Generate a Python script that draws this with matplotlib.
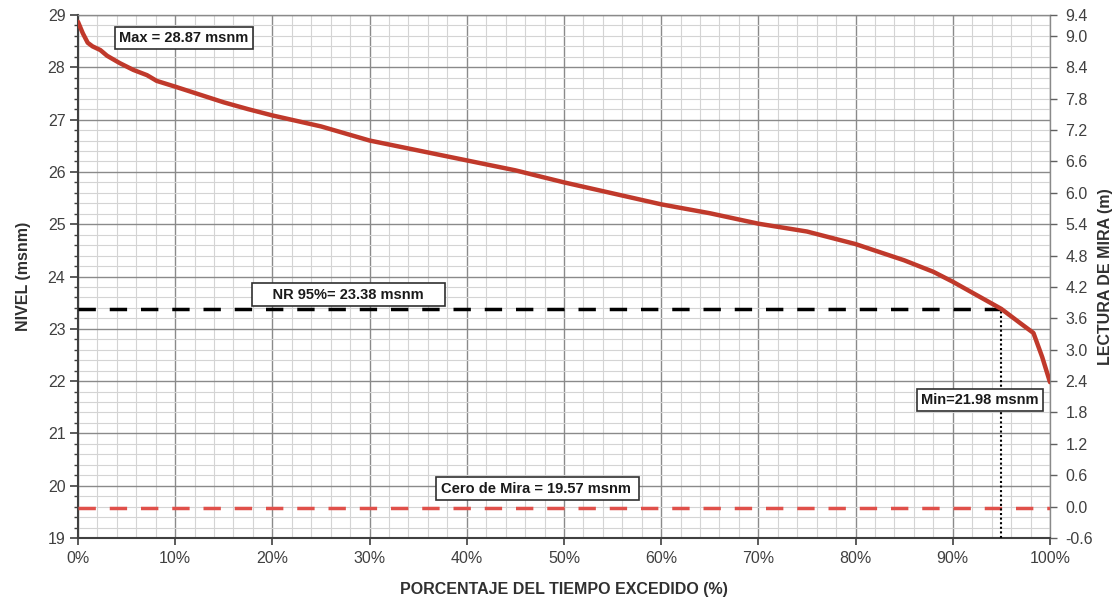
import numpy as np
import matplotlib
matplotlib.use("Agg")
import matplotlib.pyplot as plt
from matplotlib.ticker import MultipleLocator, FuncFormatter, FixedLocator

plt.rcParams['font.family'] = ['Liberation Sans', 'DejaVu Sans']

# --- data ---
pct_exceeded = [0, 0.5, 1, 1.5, 2.3, 3, 4.3, 5.7, 7.1, 8.1, 10, 12.5, 15, 17.5, 20,
                25, 30, 35, 40, 45, 50, 55, 60, 65, 70, 75, 80, 85, 88, 90, 92.5,
                95, 97, 98.3, 99.2, 100]
nivel = [28.87, 28.65, 28.47, 28.40, 28.33, 28.22, 28.08, 27.95, 27.85, 27.74, 27.63,
         27.48, 27.33, 27.20, 27.08, 26.87, 26.60, 26.41, 26.22, 26.03, 25.80, 25.59,
         25.38, 25.21, 25.01, 24.86, 24.62, 24.31, 24.09, 23.90, 23.64, 23.38, 23.10,
         22.92, 22.46, 21.98]
nivel_max = 28.87
nivel_min = 21.98
nr95 = 23.38
nr95_pct = 95
cero_mira = 19.57
x_ticks = [0, 10, 20, 30, 40, 50, 60, 70, 80, 90, 100]
y_left_ticks = [19, 20, 21, 22, 23, 24, 25, 26, 27, 28, 29]
y_right_ticks = [-0.6, 0.0, 0.6, 1.2, 1.8, 2.4, 3.0, 3.6, 4.2, 4.8, 5.4, 6.0, 6.6,
                 7.2, 7.8, 8.4, 9.0, 9.4]
label_max = "Max = 28.87 msnm"
label_nr = "NR 95%= 23.38 msnm"
label_min = "Min=21.98 msnm"
label_cero = "Cero de Mira = 19.57 msnm"

fig = plt.figure(figsize=(11.17, 6.0), dpi=100)
ax = fig.add_axes([0.0698, 0.1033, 0.8702, 0.8717])

x = np.array(pct_exceeded) / 100.0
ax.set_xlim(0, 1)
ax.set_ylim(19, 29)

# grid
ax.xaxis.set_major_locator(FixedLocator(np.array(x_ticks) / 100.0))
ax.xaxis.set_minor_locator(MultipleLocator(0.02))
ax.yaxis.set_major_locator(FixedLocator(y_left_ticks))
ax.yaxis.set_minor_locator(MultipleLocator(0.2))
ax.grid(which='minor', color='#d4d4d4', lw=0.8)
ax.grid(which='major', color='#8a8a8a', lw=1.0)
ax.set_axisbelow(True)
ax.xaxis.set_major_formatter(FuncFormatter(lambda v, p: f"{v*100:.0f}%"))

ax.tick_params(axis='x', which='minor', length=0)
ax.tick_params(axis='x', which='major', length=5, width=1.2, color='#404040',
               labelsize=11.5, labelcolor='#404040', pad=4)
ax.tick_params(axis='y', which='major', length=6, width=1.2, color='#404040',
               labelsize=11.5, labelcolor='#404040', pad=3)
ax.tick_params(axis='y', which='minor', length=3, width=1.0, color='#404040')
for s in ['left', 'bottom']:
    ax.spines[s].set_color('#404040')
    ax.spines[s].set_linewidth(1.5)
for s in ['top', 'right']:
    ax.spines[s].set_color('#8a8a8a')
    ax.spines[s].set_linewidth(1.0)

# reference lines
ax.axhline(cero_mira, color='#e0504a', lw=2.5, dashes=(5, 4), zorder=3)
ax.plot([0, nr95_pct / 100.0], [nr95, nr95], color='black', lw=2.5,
        dashes=(5, 4), zorder=3)
ax.plot([nr95_pct / 100.0, nr95_pct / 100.0], [19, nr95], color='black', lw=1.5,
        dashes=(1, 1.2), zorder=3)

# curve
ax.plot(x, nivel, color='#c0392b', lw=3.2, zorder=4, solid_capstyle='round')

def boxed(xp, yp, s):
    ax.text(xp, yp, s, ha='center', va='center', fontsize=10.5,
            fontweight='bold', color='#1a1a1a',
            bbox=dict(boxstyle='square,pad=0.3', fc='white', ec='#303030', lw=1.2),
            zorder=5)

boxed(0.109, 28.56, label_max)
boxed(0.278, 23.65, "    " + label_nr + "    ")
boxed(0.928, 21.64, label_min)
boxed(0.473, 19.94, label_cero + " ")

ax.set_xlabel("PORCENTAJE DEL TIEMPO EXCEDIDO (%)", fontsize=11.5, fontweight='bold',
              color='#303030', labelpad=12)
ax.set_ylabel("NIVEL (msnm)", fontsize=11.5, fontweight='bold', color='#303030',
              labelpad=12)

# right axis
ax2 = ax.twinx()
ax2.set_ylim(-0.6, 9.4)
ax2.yaxis.set_major_locator(FixedLocator(y_right_ticks))
ax2.yaxis.set_major_formatter(FuncFormatter(lambda v, p: f"{v:.1f}"))
ax2.tick_params(axis='y', length=5, width=1.0, color='#606060', labelsize=11.5,
                labelcolor='#404040', pad=6)
for s in ax2.spines.values():
    s.set_visible(False)
ax2.set_ylabel("LECTURA DE MIRA (m)", fontsize=11.5, fontweight='bold',
               color='#303030', labelpad=4)

fig.savefig("out.png", dpi=100, facecolor='white')
